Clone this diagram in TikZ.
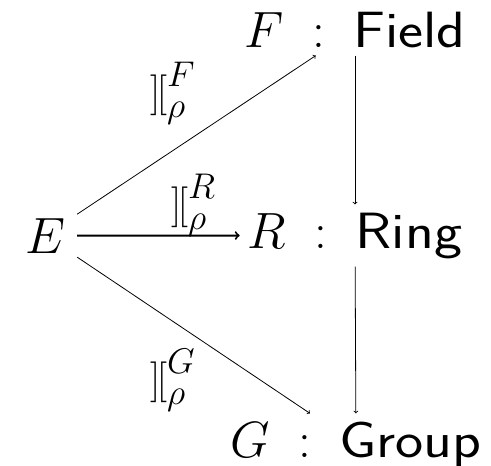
\RequirePackage{fix-cm}
\documentclass[tikz,border=0pt]{standalone}
\usetikzlibrary{positioning}
\newcommand{\sfname}[1]{\scalebox{1.17}[1]{\textsf{#1}}}
\newcommand{\semb}{\scalebox{0.8}{$\mathbf{]}\mkern-1.5mu\mathbf{[}$}}
\begin{document}
\begin{tikzpicture}[x=1pt, y=1pt, >=to,
  font=\fontsize{51}{60}\selectfont,
  obj/.style={inner sep=8pt, anchor=base},
  map/.style={->, line width=0.8pt},
  lab/.style={inner sep=0pt, anchor=base west}]
\useasboundingbox (0,0) rectangle (491,-466);
\node[obj, inner xsep=12pt] (E) at (45,-253) {$E$};
\node[obj] (F) at (355,-47) {$F \;:\; \sfname{Field}$};
\node[obj] (R) at (355,-248) {$R \;:\; \sfname{Ring}$};
\node[obj] (G) at (356,-457) {$G \;:\; \sfname{Group}$};
\draw[map] (E) -- (F);
\draw[map, line width=2pt] (E) -- (R);
\draw[map] (E) -- (G);
\draw[map] (F) -- (R);
\draw[map] (R) -- (G);
\node[lab] (lf) at (150,-105) {$\semb^{F}_{\rho}$};
\node[lab] (lr) at (171,-217) {$\semb^{R}_{\rho}$};
\node[lab] (lg) at (150,-392) {$\semb^{G}_{\rho}$};
\end{tikzpicture}
\end{document}
